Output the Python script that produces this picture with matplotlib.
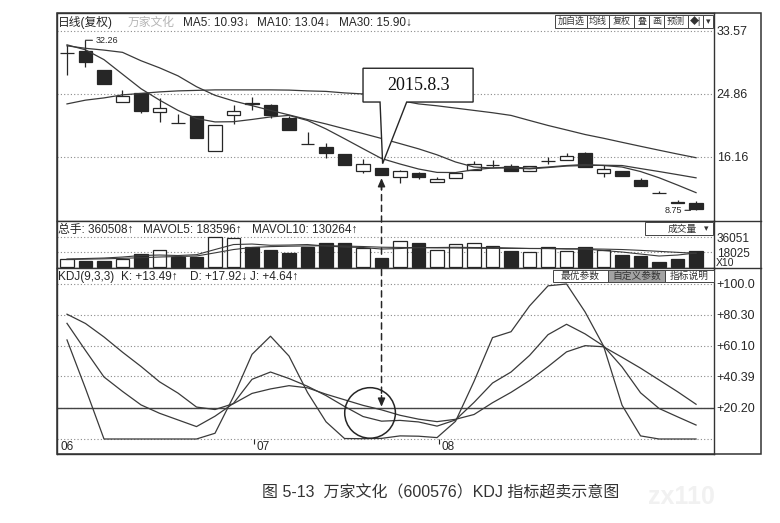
import matplotlib
matplotlib.use('Agg')
import numpy as np
import matplotlib.pyplot as plt
from matplotlib.patches import Rectangle, Polygon, Ellipse, ConnectionPatch

plt.rcParams['font.family'] = ['Liberation Sans', 'Noto Sans CJK SC', 'DejaVu Sans']

# daily candles (front-adjusted)
opens  = [30.5, 30.8, 28.2, 23.7, 25.0, 22.4, 20.85, 21.8, 16.95, 21.95, 23.55, 23.3, 21.5, 17.95, 17.45,
          16.5, 14.2, 14.55, 13.4, 13.85, 12.66, 13.2, 14.3, 15.0, 14.85, 14.25, 15.5, 15.7, 16.7, 13.86,
          14.2, 12.9, 11.12, 9.82, 9.7]
closes = [30.55, 29.2, 26.2, 24.57, 22.5, 22.95, 20.8, 18.7, 20.55, 22.5, 23.5, 21.95, 19.8, 17.9, 16.7,
          15.0, 15.15, 13.65, 14.2, 13.4, 13.03, 13.95, 15.15, 15.05, 14.25, 14.85, 15.6, 16.25, 14.7, 14.4,
          13.5, 12.1, 11.08, 9.78, 8.9]
highs  = [31.6, 32.26, 28.2, 25.4, 25.0, 24.3, 22.0, 21.8, 20.55, 23.3, 24.45, 23.4, 21.8, 19.6, 18.0,
          16.5, 15.8, 14.6, 14.3, 14.1, 13.3, 14.0, 15.5, 15.7, 15.15, 14.9, 16.15, 16.65, 16.85, 15.0,
          14.25, 13.15, 11.4, 10.15, 10.0]
lows   = [27.5, 28.5, 26.2, 23.7, 22.17, 20.9, 20.8, 18.7, 16.95, 20.65, 22.6, 21.55, 19.8, 17.9, 15.95,
          15.0, 13.85, 13.6, 12.56, 13.05, 12.6, 13.15, 14.3, 14.7, 14.2, 14.2, 15.15, 15.7, 14.7, 13.3,
          13.45, 12.1, 11.08, 9.78, 8.75]

ma5  = [31.63, 30.94, 29.58, 27.57, 25.56, 23.99, 22.56, 21.44, 20.97, 21.0, 21.31, 21.66, 21.87, 21.17, 20.0,
        18.65, 17.27, 15.91, 15.15, 14.46, 13.99, 13.97, 14.36, 14.6, 14.73, 14.57, 14.73, 14.94, 15.08, 14.94,
        14.73, 14.11, 13.25, 12.24, 11.19]
ma10 = [31.49, 31.15, 30.9, 30.59, 29.43, 28.45, 27.34, 25.84, 24.65, 23.87, 23.22, 22.56, 21.94, 21.3, 20.69,
        20.02, 19.36, 18.68, 17.97, 17.25, 16.42, 15.43, 14.73, 14.6, 14.6, 14.48, 14.66, 14.87, 14.94, 14.98,
        14.94, 14.52, 14.11, 13.68, 13.24]
ma30 = [23.46, 23.98, 24.29, 24.71, 24.91, 25.12, 25.26, 25.33, 25.4, 25.4, 25.4, 25.4, 25.37, 25.26, 25.19,
        24.98, 24.84, 24.38, 23.93, 23.46, 23.2, 22.88, 22.56, 22.24, 21.87, 21.17, 20.48, 19.86, 19.23, 18.71,
        18.15, 17.6, 17.06, 16.53, 16.02]

# volume (x10 lots)
vol = [10000, 6800, 6800, 10000, 15600, 20000, 11700, 11700, 35700, 34800, 23700, 20800, 16800, 23700, 28800,
       28800, 22800, 10800, 30900, 28800, 20800, 27600, 28800, 24800, 18800, 17600, 23700, 18800, 23700, 20800,
       14000, 13600, 5600, 10000, 18800]
vol_ma5 = [9600, 10200, 10800, 12000, 13800, 14400, 13800, 14800, 21000, 27000, 27600, 26100, 26400, 27000, 25200,
           24000, 23400, 21600, 22200, 23400, 23400, 23700, 23400, 23400, 22800, 22200, 22200, 21600, 21600, 19800,
           18000, 15600, 13200, 14400, 16800]
vol_ma10 = [9000, 9400, 9800, 10400, 11200, 12000, 12600, 13200, 17000, 21000, 23500, 24500, 25000, 25300, 25600,
            25200, 24600, 23800, 23500, 23200, 23000, 22800, 22600, 22400, 22400, 22300, 22200, 22000, 21800, 21500,
            21000, 20000, 18800, 17600, 16400]

# KDJ(9,3,3)
k_line = [74.6, 57.1, 40.0, 30.7, 22.0, 16.6, 12.3, 8.0, 14.7, 23.0, 38.5, 43.2, 39.0, 34.0, 28.0,
          21.0, 14.5, 11.5, 12.0, 11.0, 8.3, 12.3, 23.6, 36.1, 43.2, 53.9, 67.3, 74.0, 67.8, 60.0,
          46.5, 29.8, 19.7, 14.3, 9.0]
d_line = [80.5, 74.5, 65.8, 56.0, 46.8, 36.9, 29.6, 20.6, 19.0, 22.8, 29.4, 32.3, 34.4, 33.0, 28.9,
          25.3, 21.7, 18.8, 15.3, 12.8, 11.2, 12.7, 15.8, 23.4, 30.1, 37.7, 46.7, 56.2, 60.2, 59.5,
          52.7, 45.7, 38.1, 30.5, 22.4]
j_line = [63.9, 32.6, 0, 0, 0, 0, 0, 0, 3.7, 27.4, 54.6, 66.3, 53.5, 30.0, 11.1,
          0.3, 0.2, 0.4, 2.0, 1.8, 0.9, 11.4, 37.2, 65.4, 69.2, 85.8, 98.8, 100.0, 82.0, 60.0,
          21.8, 2.0, 0, 0, 0]

price_ticks = [16.16, 24.86, 33.57]
vol_ticks = [18025, 36051]
kdj_ticks = [20.20, 40.39, 60.10, 80.30, 100.0]
kdj_labels = ['+20.20', '+40.39', '+60.10', '+80.30', '+100.0']
month_labels = ['06', '07', '08']
month_pos = [-0.48, 10.1, 20.1]
signal_day = 17   # 2015.8.3

W, H = 780, 523
dark = '#262626'
line_c = '#3a3a3a'
grid_c = '#8a8a8a'

fig = plt.figure(figsize=(W / 100, H / 100), dpi=100)


def px_axes(x0, y0, x1, y1):
    return fig.add_axes([x0 / W, 1 - y1 / H, (x1 - x0) / W, (y1 - y0) / H])


def ftext(x, y, s, **kw):
    kw.setdefault('va', 'center')
    kw.setdefault('fontsize', 8.5)
    kw.setdefault('color', dark)
    return fig.text(x / W, 1 - y / H, s, **kw)


def button(x0, x1, y0, y1, label, face='white', size=7):
    fig.add_artist(Rectangle((x0 / W, 1 - y1 / H), (x1 - x0) / W, (y1 - y0) / H,
                             transform=fig.transFigure, facecolor=face, edgecolor='#444', lw=0.7))
    ftext((x0 + x1) / 2, (y0 + y1) / 2, label, ha='center', fontsize=size, color='#333')


idx = np.arange(len(opens))
o = np.array(opens)
c = np.array(closes)
up = c >= o
xlim = (-0.54, 34.97)

ax_p = px_axes(57, 13, 714, 221)
ax_v = px_axes(57, 221, 714, 268)
ax_k = px_axes(57, 268, 714, 454)

for ax in (ax_p, ax_v, ax_k):
    ax.set_xlim(*xlim)
    ax.set_xticks([])
    ax.yaxis.tick_right()
    ax.tick_params(axis='y', length=0, pad=2, labelsize=9, labelcolor=dark)
    for s in ax.spines.values():
        s.set_color('#333')
        s.set_linewidth(1)

# ---- price panel
ax_p.set_ylim(7.27, 36.03)
ax_p.set_yticks(price_ticks)
ax_p.set_yticklabels(['%.2f' % t for t in price_ticks])
ax_p.grid(axis='y', linestyle=(0, (1, 2)), color=grid_c, lw=0.8)
ax_p.vlines(idx, lows, highs, color=dark, lw=0.9, zorder=2)
body_lo = np.minimum(o, c)
body_h = np.maximum(np.abs(c - o), 0.05)
ax_p.bar(idx[up], body_h[up], bottom=body_lo[up], width=0.72, facecolor='white',
         edgecolor=dark, lw=0.9, zorder=3)
ax_p.bar(idx[~up], body_h[~up], bottom=body_lo[~up], width=0.72, facecolor=dark,
         edgecolor=dark, lw=0.9, zorder=3)
for m in (ma5, ma10, ma30):
    ax_p.plot(idx, m, color=line_c, lw=0.9, zorder=4)

imax = int(np.argmax(highs))
ax_p.annotate('%.2f' % highs[imax], xy=(imax, highs[imax]), xytext=(7, 0), textcoords='offset points',
              fontsize=6.5, va='center', color=dark,
              arrowprops=dict(arrowstyle='-', color=dark, lw=0.8, shrinkA=0, shrinkB=0))
imin = int(np.argmin(lows))
ax_p.annotate('%.2f' % lows[imin], xy=(imin - 0.3, lows[imin]), xytext=(-6, 0), textcoords='offset points',
              fontsize=6.5, va='center', ha='right', color=dark,
              arrowprops=dict(arrowstyle='-', color=dark, lw=0.8, shrinkA=0, shrinkB=0))

# callout "2015.8.3"
callout = Polygon([(16.0, 28.39), (21.95, 28.39), (21.95, 23.72), (18.36, 23.72),
                   (signal_day + 0.06, 15.2), (16.92, 23.72), (16.0, 23.72)],
                  closed=True, facecolor='white', edgecolor=dark, lw=1.0, zorder=6)
ax_p.add_patch(callout)
ax_p.text(18.98, 26.06, '2015.8.3', ha='center', va='center', fontsize=13,
          family='Liberation Serif', color='#111', zorder=7)

# ---- volume panel
ax_v.set_ylim(-1200, 55280)
ax_v.set_yticks(vol_ticks)
ax_v.set_yticklabels([str(t) for t in vol_ticks])
ax_v.tick_params(axis='y', labelsize=8.5)
ax_v.grid(axis='y', linestyle=(0, (1, 2)), color=grid_c, lw=0.8)
vol_a = np.array(vol)
ax_v.bar(idx[up], vol_a[up], width=0.72, facecolor='white', edgecolor=dark, lw=0.9, zorder=3)
ax_v.bar(idx[~up], vol_a[~up], width=0.72, facecolor=dark, edgecolor=dark, lw=0.9, zorder=3)
ax_v.plot(idx, vol_ma5, color=line_c, lw=0.8, zorder=4)
ax_v.plot(idx, vol_ma10, color=line_c, lw=0.8, zorder=4)

# ---- KDJ panel
ax_k.set_ylim(-9.68, 110.3)
ax_k.set_yticks(kdj_ticks)
ax_k.set_yticklabels(kdj_labels)
ax_k.tick_params(axis='y', labelsize=9)
ax_k.grid(axis='y', linestyle=(0, (1, 2)), color=grid_c, lw=0.8)
ax_k.axhline(kdj_ticks[0], color='#444', lw=1.0, zorder=2)
ax_k.axhline(0, color=grid_c, lw=0.8, linestyle=(0, (1, 2)))
for series in (k_line, d_line, j_line):
    ax_k.plot(idx, series, color=line_c, lw=0.9, zorder=4)
for lab, pos in zip(month_labels, month_pos):
    ax_k.text(pos + 0.12, -5.3, lab, ha='left', va='center', fontsize=8.5, color=dark)
ax_k.vlines(month_pos[1:], -3, 0, color=dark, lw=0.8)

ax_k.add_patch(Ellipse((16.38, 16.8), 2.74, 32.6, facecolor='none', edgecolor=dark, lw=1.1, zorder=6))

# dashed double arrow linking the candle and the KDJ crossing
con = ConnectionPatch(xyA=(signal_day, 12.4), coordsA=ax_p.transData,
                      xyB=(signal_day, 24.5), coordsB=ax_k.transData,
                      linestyle=(0, (4, 3)), lw=1.1, color=dark, zorder=8)
fig.add_artist(con)
ax_p.annotate('', xy=(signal_day, 13.2), xytext=(signal_day, 11.6),
              arrowprops=dict(arrowstyle='-|>,head_length=0.5,head_width=0.22', color=dark, lw=1,
                              shrinkA=0, shrinkB=0), zorder=8)
ax_k.annotate('', xy=(signal_day, 20.8), xytext=(signal_day, 28),
              arrowprops=dict(arrowstyle='-|>,head_length=0.5,head_width=0.22', color=dark, lw=1,
                              shrinkA=0, shrinkB=0), zorder=8)

# ---- outer frame & right-hand column
fig.add_artist(Rectangle((57 / W, 1 - 454 / H), (761 - 57) / W, (454 - 13) / H, transform=fig.transFigure,
                         facecolor='none', edgecolor='#333', lw=1.1))
for yy in (221, 268):
    fig.add_artist(plt.Line2D([714 / W, 761 / W], [1 - yy / H, 1 - yy / H], transform=fig.transFigure,
                              color='#333', lw=1))
ftext(716, 263, 'X10', fontsize=7.5)

# headers
ftext(58, 22.5, '日线(复权)', fontsize=8.5)
ftext(128, 22.5, '万家文化', fontsize=8.5, color='#b5b5b5')
ftext(183, 22.5, 'MA5: 10.93↓', fontsize=8.5)
ftext(257, 22.5, 'MA10: 13.04↓', fontsize=8.5)
ftext(339, 22.5, 'MA30: 15.90↓', fontsize=8.5)

ftext(58, 229.7, '总手: 360508↑', fontsize=8.5)
ftext(143, 229.7, 'MAVOL5: 183596↑', fontsize=8.5)
ftext(252, 229.7, 'MAVOL10: 130264↑', fontsize=8.5)

ftext(58, 277.3, 'KDJ(9,3,3)', fontsize=8.5)
ftext(121, 277.3, 'K: +13.49↑', fontsize=8.5)
ftext(190, 277.3, 'D: +17.92↓', fontsize=8.5)
ftext(250, 277.3, 'J: +4.64↑', fontsize=8.5)

# toolbar buttons
top_btns = ['加自选', '均线', '复权', '叠', '画', '预测', '◆|', '▾']
edges = [555, 587, 609, 634, 649, 664, 688, 703, 713]
for lab, a, b in zip(top_btns, edges[:-1], edges[1:]):
    button(a, b, 15, 28, lab, size=6.5)

button(645, 713, 222, 235, '', size=7)
ftext(682, 228.5, '成交量', fontsize=7, ha='center', color='#333')
ftext(706, 228.5, '▾', fontsize=6.5, ha='center', color='#333')

button(553, 608, 270, 282, '最优参数', size=7)
button(608, 665, 270, 282, '自定义参数', face='#a3a3a3', size=7)
button(665, 714, 270, 282, '指标说明', size=7)

# caption + faint watermark
ftext(262, 493, '图 5-13  万家文化（600576）KDJ 指标超卖示意图', fontsize=11.5, ha='left', color='#333')
ftext(648, 497, 'zx110', fontsize=18, ha='left', color='#f1f1f1', weight='bold')

fig.savefig('out.png', dpi=100)
